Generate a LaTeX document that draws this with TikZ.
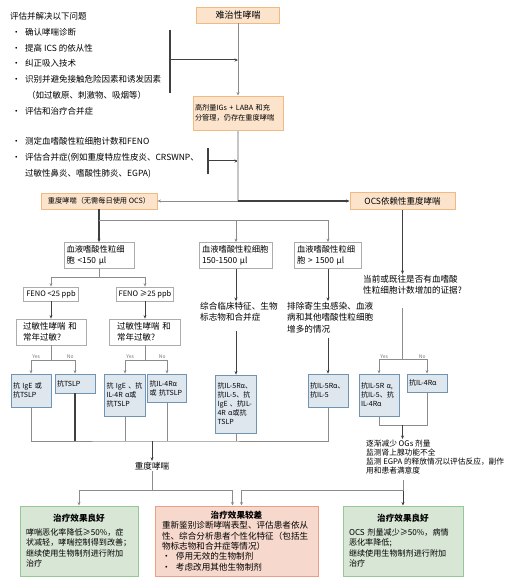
\documentclass[tikz,border=0pt]{standalone}
\usepackage{fontspec}
\setmainfont{Noto Sans CJK SC}
\usepackage{xcolor}
\usetikzlibrary{arrows.meta, positioning, calc}

\definecolor{orfill}{HTML}{FCE4CC}
\definecolor{ordraw}{HTML}{F2BA80}
\definecolor{blfill}{HTML}{DEE6EE}
\definecolor{bldraw}{HTML}{7094B4}
\definecolor{grfill}{HTML}{D8E6D5}
\definecolor{grdraw}{HTML}{96C895}
\definecolor{rdfill}{HTML}{F7D8CC}
\definecolor{rddraw}{HTML}{EC9F86}
\definecolor{lngray}{HTML}{8C8C8C}
\definecolor{lndark}{HTML}{404040}

\newcommand{\itm}{\hspace*{2pt}\makebox[13pt][l]{•}}

\begin{document}
\begin{tikzpicture}[x=1pt, y=-1pt,
    obox/.style={rectangle, draw=ordraw, fill=orfill, line width=0.9pt, inner sep=2pt},
    wbox/.style={rectangle, draw=gray!65, fill=white, line width=0.8pt, align=left, inner xsep=2.5pt, inner ysep=1pt, font=\fontsize{8.3}{10.5}\selectfont},
    dbox/.style={rectangle, draw=bldraw, fill=blfill, line width=0.8pt, align=left, inner xsep=2pt, inner ysep=1pt, font=\fontsize{7}{9}\selectfont},
    gbox/.style={rectangle, draw=grdraw, fill=grfill, line width=1pt, align=left, inner xsep=6pt, font=\fontsize{8.1}{10.5}\selectfont},
    rbox/.style={rectangle, draw=rddraw, fill=rdfill, line width=1pt, align=left, inner xsep=7pt, font=\fontsize{8.6}{10.3}\selectfont},
    txt/.style={align=left, inner sep=1pt, font=\fontsize{8.6}{11.3}\selectfont},
    yn/.style={font=\fontsize{5}{6}\selectfont, text=black!55, inner sep=1pt},
    line/.style={draw=lngray, line width=0.8pt},
    dline/.style={draw=lndark, line width=1pt},
    arrow/.style={line, -{Stealth[length=3.5pt, width=3pt]}},
    darrow/.style={dline, -{Stealth[length=3.5pt, width=3pt]}},
    bar/.style={draw=lndark, line width=2pt}
]
    \useasboundingbox (0,0) rectangle (517,585);

    % Refractory asthma
    \node[obox, minimum width=83pt, minimum height=16pt, font=\fontsize{9}{11}\selectfont] (refr) at (238,15) {难治性哮喘};
    \node[obox, text width=86pt, minimum height=34pt, align=left, font=\fontsize{7.2}{10}\selectfont] (hd) at (238,113) {高剂量IGs + LABA 和充\\分管理，仍存在重度哮喘};
    \draw[arrow, line width=1pt] (refr) -- (hd);

    % Assess and address
    \node[anchor=north west, align=left, inner sep=0pt, font=\fontsize{8.5}{15.7}\selectfont] (chk) at (10,12.5) {评估并解决以下问题\\
        \itm 确认哮喘诊断\\
        \itm 提高 ICS 的依从性\\
        \itm 纠正吸入技术\\
        \itm 识别并避免接触危险因素和诱发因素\\
        \hspace*{17pt}（如过敏原、刺激物、吸烟等）\\
        \itm 评估和治疗合并症};
    \draw[bar] (170,30) -- (170,93);
    \coordinate (br1) at (170,60);
    \draw[darrow] (br1) -- (br1 -| hd.north);

    % Measure
    \node[anchor=north west, align=left, inner sep=0pt, font=\fontsize{8.5}{15.7}\selectfont] (meas) at (10,137.5) {\itm 测定血嗜酸性粒细胞计数和FENO\\
        \itm 评估合并症(例如重度特应性皮炎、CRSWNP、\\
        \hspace*{15pt}过敏性鼻炎、嗜酸性肺炎、EGPA)};
    \draw[bar] (208,148) -- (208,174);
    \coordinate (br2) at (208,161);
    \draw[darrow] (br2) -- (br2 -| hd.south);

    % Severe asthma / OCS dependent
    \node[obox, minimum width=116pt, minimum height=16pt, font=\fontsize{7.2}{9}\selectfont] (sev) at (99,201) {重度哮喘（无需每日使用 OCS）};
    \node[obox, minimum width=105pt, minimum height=17pt, font=\fontsize{8.5}{10}\selectfont] (ocs) at (402.5,201) {OCS依赖性重度哮喘};
    \draw[line, line width=1.5pt, draw=gray!45] (hd.south) -- (hd.south |- sev.east) coordinate (j1);
    \draw[arrow] (j1) -- (sev.east);
    \draw[darrow, line width=1.3pt] (j1) -- (ocs.west);

    % Blood eosinophils
    \node[wbox, text width=65pt, minimum height=26pt] (eos1) at (99,255.5) {血液嗜酸性粒细\\胞 <150 µl};
    \node[wbox, text width=68pt, minimum height=26pt] (eos2) at (236,255.5) {血液嗜酸性粒细胞\\150-1500 µl};
    \node[wbox, text width=62pt, minimum height=26pt] (eos3) at (328,255.5) {血液嗜酸性粒细\\胞 > 1500 µl};
    \draw[darrow, line width=1.5pt] (sev.south) -- (eos1.north);
    \path (sev.south) ++(0,11) coordinate (j2);
    \draw[arrow] (j2) -| (eos2.north);
    \draw[arrow] (j2) -| (eos3.north);

    % FENO
    \node[wbox, align=center, minimum width=52pt, minimum height=14pt, font=\fontsize{7.5}{9}\selectfont] (fe1) at (51,294) {FENO <25 ppb};
    \node[wbox, align=center, minimum width=54pt, minimum height=14pt, font=\fontsize{7.5}{9}\selectfont] (fe2) at (145,294) {FENO ≥25 ppb};
    \draw[line] (eos1.south) -- ++(0,8) coordinate (j3);
    \draw[arrow] (j3) -| (fe1.north);
    \draw[arrow] (j3) -| (fe2.north);

    % Allergic asthma?
    \node[wbox, text width=56pt, minimum width=70pt, minimum height=26pt, font=\fontsize{8.5}{10.5}\selectfont] (q1) at (51,332) {过敏性哮喘 和\\常年过敏?};
    \node[wbox, text width=56pt, minimum width=71pt, minimum height=26pt, font=\fontsize{8.5}{10.5}\selectfont] (q2) at (145,332) {过敏性哮喘 和\\常年过敏?};
    \draw[darrow] (fe1.south) -- (fe1.south |- q1.north);
    \draw[darrow] (fe2.south) -- (fe2.south |- q2.north);

    % Biologics, low eosinophils
    \node[dbox, text width=36pt, minimum height=33pt] (a1) at (31,390.5) {抗 IgE 或\\抗TSLP};
    \node[dbox, text width=36pt, minimum height=19pt] (a2) at (75,383.5) {抗TSLP};
    \node[dbox, text width=37pt, minimum height=42pt] (b1) at (125,395) {抗 IgE 、抗\\IL-4R α或\\抗TSLP};
    \node[dbox, text width=35pt, minimum height=28pt] (b2) at (167,388) {抗IL-4Rα\\或 抗TSLP};
    \draw[line] (q1.south) -- ++(0,15) coordinate (j4a);
    \draw[arrow] (j4a) -| node[yn, above right]{Yes} (a1.north);
    \draw[arrow] (j4a) -| node[yn, above left]{No} (a2.north);
    \draw[line] (q2.south) -- ++(0,15) coordinate (j4b);
    \draw[arrow] (j4b) -| node[yn, above right]{Yes} (b1.north);
    \draw[arrow] (j4b) -| node[yn, above left]{No} (b2.north);

    % Middle columns
    \node[txt, anchor=north west] (t2) at (199,301) {综合临床特征、生物\\标志物和合并症};
    \draw[darrow, line width=0.8pt] (eos2.south) -- (eos2.south |- t2.north);
    \node[dbox, text width=37pt, minimum height=58pt] (c2) at (236,404) {抗IL-5Rα、\\抗IL-5、抗\\IgE 、抗IL-\\4R α或抗\\TSLP};
    \draw[darrow, shorten <=8pt] (c2.north |- t2.south) -- (c2.north);

    \node[txt, anchor=north west] (t3) at (286,301) {排除寄生虫感染、血液\\病和其他嗜酸性粒细胞\\增多的情况};
    \draw[darrow, line width=0.8pt] (eos3.south) -- (eos3.south |- t3.north);
    \node[dbox, text width=36pt, minimum height=33pt] (c3) at (328,390.5) {抗IL-5Rα、\\抗IL-5};
    \draw[darrow, shorten <=4pt] (c3.north |- t3.south) -- (c3.north);

    % OCS column
    \node[txt, anchor=north west] (t4) at (362,274) {当前或既往是否有血嗜酸\\性粒细胞计数增加的证据?};
    \draw[darrow] (ocs.south) -- (ocs.south |- t4.north);
    \node[dbox, text width=36pt, minimum height=42pt] (d1) at (379,395) {抗IL-5R α,\\抗IL-5、抗\\IL-4Rα};
    \node[dbox, text width=36pt, minimum height=18pt] (d2) at (427,383) {抗IL-4Rα};
    \path (ocs.south |- d1.north) ++(0,-14) coordinate (j5);
    \draw[line, shorten <=12pt] (ocs.south |- t4.south) -- (j5);
    \draw[arrow] (j5) -| node[yn, above right]{Yes} (d1.north);
    \draw[arrow] (j5) -| node[yn, above left]{No} (d2.north);

    \node[txt, anchor=north west, font=\fontsize{7.7}{9}\selectfont] (t5) at (365,439) {逐渐减少 OGs 剂量\\监测肾上腺功能不全\\监测 EGPA 的释放情况以评估反应，副作\\用和患者满意度};
    \path (d1.south) ++(0,9) coordinate (j6);
    \draw[line] (d1.south) -- (j6) -| (d2.south);
    \draw[darrow, line width=0.8pt] (j6 -| ocs.south) -- (ocs.south |- t5.north);

    % Severe asthma again
    \node[inner sep=1pt, font=\fontsize{8.6}{10}\selectfont] (sev2) at (152,466) {重度哮喘};
    \coordinate (j7) at (152,441);
    \draw[line] (a1.south) |- (j7) -| (c3.south);
    \foreach \n in {b1, b2, c2} \draw[line] (\n.south) -- (\n.south |- j7);
    \draw[dline, line width=1.6pt] (a2.south) -- (a2.south |- j7);
    \draw[darrow, line width=0.8pt] (j7) -- (sev2.north);

    % Outcomes
    \node[gbox, text width=106pt, minimum height=70pt] (good1) at (79,541) {\makebox[\hsize]{\fontsize{8.6}{10}\bfseries 治疗效果良好}\\[3pt]
        哮喘恶化率降低≥50\%，症\\
        状减轻，哮喘控制得到改善；\\
        继续使用生物制剂进行附加\\
        治疗};
    \node[rbox, text width=149pt, minimum height=70pt] (poor) at (236.5,541) {\makebox[\hsize]{\bfseries 治疗效果较差}\\
        重新鉴别诊断哮喘表型、评估患者依从\\
        性、综合分析患者个性化特征（包括生\\
        物标志物和合并症等情况）\\
        \makebox[14pt][l]{•}停用无效的生物制剂\\
        \makebox[14pt][l]{•}考虑改用其他生物制剂};
    \node[gbox, text width=108pt, minimum height=70pt] (good2) at (403,541) {\makebox[\hsize]{\fontsize{8.6}{10}\bfseries 治疗效果良好}\\[3pt]
        OCS 剂量减少≥50\%，病情\\
        恶化率降低;\\
        继续使用生物制剂进行附加\\
        治疗};

    \path (sev2.south |- good1.north) ++(0,-15) coordinate (j8);
    \draw[line] (sev2.south) -- (j8);
    \draw[arrow] (j8) -| (good1.north);
    \draw[arrow] (j8) -| ($(poor.north)+(-4,0)$);
    \path (good2.north) ++(0,-15) coordinate (j9);
    \draw[line, shorten <=4pt] (good2.north |- t5.south) -- (j9);
    \draw[darrow, line width=0.8pt] (j9) -- (good2.north);
    \draw[arrow] (j9) -| ($(poor.north)+(5,0)$);

\end{tikzpicture}
\end{document}
